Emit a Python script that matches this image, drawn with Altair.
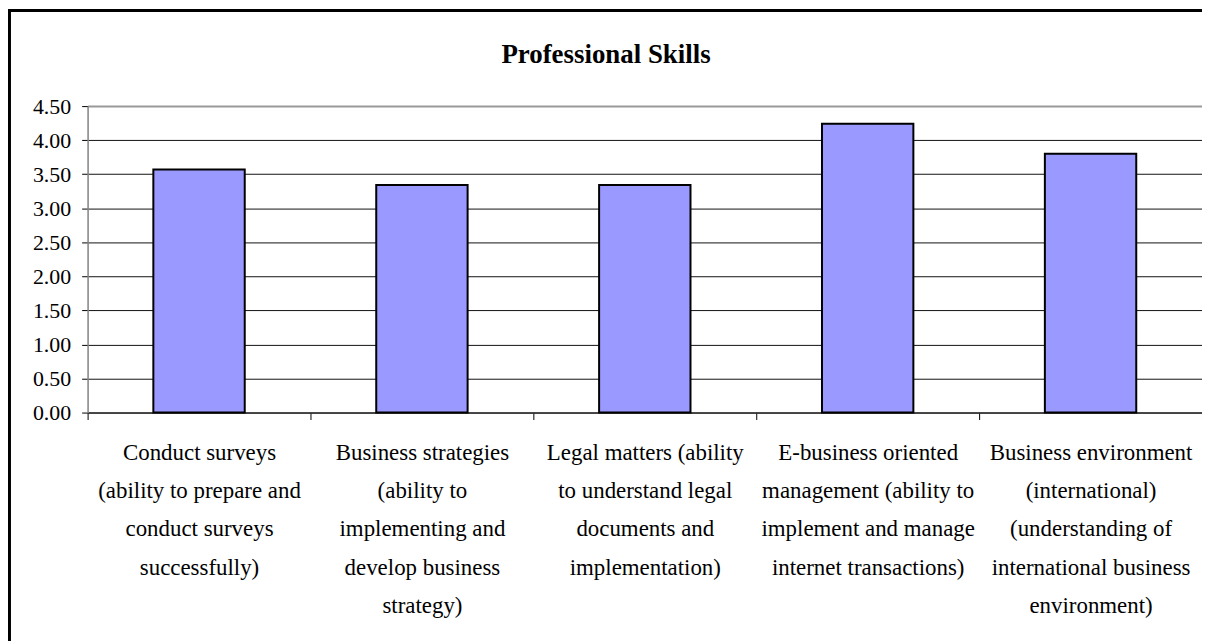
import altair as alt
import pandas as pd

title_text = "Professional Skills"
categories = [
    "Conduct surveys|(ability to prepare and|conduct surveys|successfully)",
    "Business strategies|(ability to|implementing and|develop business|strategy)",
    "Legal matters (ability|to understand legal|documents and|implementation)",
    "E-business oriented|management (ability to|implement and manage|internet transactions)",
    "Business environment|(international)|(understanding of|international business|environment)",
]
values = [3.57, 3.34, 3.34, 4.24, 3.80]
y_ticks = [0.0, 0.5, 1.0, 1.5, 2.0, 2.5, 3.0, 3.5, 4.0, 4.5]

df = pd.DataFrame({"skill": categories, "score": values})

FONT = "Liberation Serif, Times New Roman, serif"

bars = alt.Chart(df).mark_bar(
    color="#9999FF", stroke="#000000", strokeWidth=2,
    width=alt.RelativeBandSize(0.41)
).encode(
    x=alt.X("skill:N", sort=categories, title=None,
            scale=alt.Scale(paddingInner=0, paddingOuter=0),
            axis=alt.Axis(labelAngle=0, labelExpr="split(datum.label, '|')",
                          labelFont=FONT, labelFontSize=23, labelColor="#000",
                          labelLineHeight=38.5, labelBaseline="top",
                          labelPadding=22, tickBand="extent", tickSize=7,
                          tickColor="#000", domainColor="#333", domainWidth=1.5,
                          labelLimit=400, grid=False)),
    y=alt.Y("score:Q", title=None,
            scale=alt.Scale(domain=[0, 4.5], nice=False, zero=True),
            axis=alt.Axis(values=y_ticks, format=".2f", labelFont=FONT,
                          labelFontSize=22, labelColor="#000", tickSize=6,
                          tickColor="#000", labelPadding=11,
                          domainColor="#888", domainWidth=1.5,
                          grid=True,
                          gridColor={"condition": {"test": "datum.value == 4.5", "value": "#999999"}, "value": "#111111"},
                          gridWidth={"condition": {"test": "datum.value == 4.5", "value": 2}, "value": 1})),
)

title = alt.Chart(pd.DataFrame({"t": [title_text]})).mark_text(
    font=FONT, fontSize=27, fontWeight="bold", color="#000",
    align="center", baseline="alphabetic"
).encode(text="t:N", x=alt.value(521), y=alt.value(-43))

frame_top = alt.Chart(df).mark_rule(color="#000", strokeWidth=3).encode(
    x=alt.value(-79), x2=alt.value(1122), y=alt.value(-96)
)
frame_left = alt.Chart(df).mark_rule(color="#000", strokeWidth=3).encode(
    x=alt.value(-79), y=alt.value(-97), y2=alt.value(540)
)

chart = alt.layer(bars, title, frame_top, frame_left).properties(
    width=1120, height=308,
    autosize=alt.AutoSizeParams(type="none"),
    padding={"left": 80, "top": 97, "right": 0, "bottom": 228},
).configure_view(stroke=None).configure(background="#ffffff")

chart.save("out.html", embed_options={"renderer": "svg", "actions": False})
